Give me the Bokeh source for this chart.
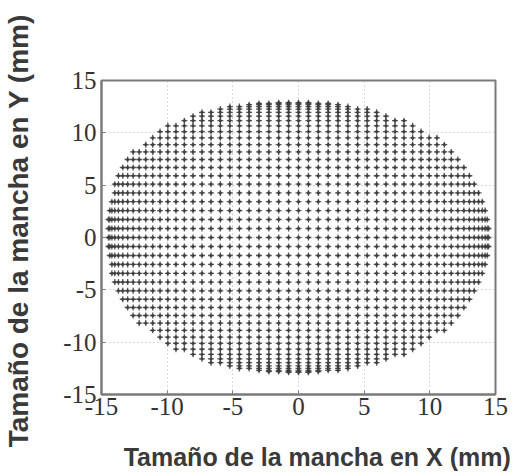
from bokeh.plotting import figure
from bokeh.models import FixedTicker, Range1d, ColumnDataSource
from bokeh.embed import file_html
from bokeh.resources import INLINE

# Column positions (mm) along X, positive half (mirrored for the negative side)
col_x_half = [0.0, 0.756, 1.51, 2.26, 3.01, 3.76, 4.50, 5.23, 5.95, 6.66, 7.35,
              8.03, 8.69, 9.33, 9.95, 10.54, 11.10, 11.63, 12.13, 12.59, 13.01,
              13.38, 13.71, 13.99, 14.21, 14.37, 14.47]

# Row positions (mm) along Y, from the centre row outwards
row_y_half = [0.0, 0.86, 1.72, 2.57, 3.42, 4.26, 5.09, 5.90, 6.69, 7.45, 8.18,
              8.87, 9.52, 10.12, 10.67, 11.16, 11.59, 11.96, 12.27, 12.51,
              12.69, 12.81, 12.88]

# Horizontal extent of the spot on each row (mm)
upper_left = [14.5, 14.5, 14.47, 14.42, 14.32, 14.18, 13.99, 13.74, 13.43, 13.05,
              12.60, 12.08, 11.49, 10.83, 10.09, 9.29, 8.41, 7.48, 6.46, 5.40,
              4.28, 3.10, 1.76]
upper_right = [14.5, 14.49, 14.43, 14.33, 14.17, 13.95, 13.68, 13.33, 12.92, 12.45,
               11.90, 11.29, 10.61, 9.87, 9.07, 8.21, 7.31, 6.36, 5.36, 4.35,
               3.32, 2.29, 1.19]
lower_left = [14.5, 14.49, 14.45, 14.36, 14.22, 14.03, 13.78, 13.47, 13.09, 12.64,
              12.13, 11.55, 10.89, 10.17, 9.38, 8.55, 7.65, 6.70, 5.69, 4.66,
              3.60, 2.52, 1.35]
lower_right = [14.5, 14.49, 14.42, 14.31, 14.14, 13.91, 13.62, 13.26, 12.83, 12.34,
               11.78, 11.15, 10.46, 9.71, 8.90, 8.04, 7.13, 6.18, 5.19, 4.19,
               3.18, 2.17, 1.11]

tick_values = [-15, -10, -5, 0, 5, 10, 15]
tick_labels = ["-15", "-10", "-5", "0", "5", "10", "15"]

x_title = "Tamaño de la mancha en X (mm)"
y_title = "Tamaño de la mancha en Y (mm)"

# Build the spot diagram
cols = sorted(set([-v for v in col_x_half] + col_x_half))
xs, ys = [], []
rows = []
for i, yv in enumerate(row_y_half):
    rows.append((yv, upper_left[i], upper_right[i]))
    if i > 0:
        rows.append((-yv, lower_left[i], lower_right[i]))
for yv, le, ri in rows:
    for xv in cols:
        if -le - 1e-6 <= xv <= ri + 1e-6:
            xs.append(xv)
            ys.append(yv)

src = ColumnDataSource(data=dict(x=xs, y=ys))

p = figure(width=522, height=476, output_backend="svg", toolbar_location=None,
           x_range=Range1d(-15, 15), y_range=Range1d(-15, 15),
           min_border_left=98, min_border_right=27, min_border_top=80,
           min_border_bottom=82)

p.scatter("x", "y", source=src, marker="cross", size=6, line_width=1.3,
          line_color="#4a4a4a", line_alpha=0.9)
p.scatter("x", "y", source=src, marker="circle", size=3.2, line_color=None,
          fill_color="#3c3c3c", fill_alpha=0.9)

p.outline_line_color = "#7a7a7a"
p.outline_line_width = 2
p.background_fill_color = "white"
p.border_fill_color = "white"

for ax in (p.xaxis[0], p.yaxis[0]):
    ax.ticker = FixedTicker(ticks=tick_values)
    ax.major_label_overrides = dict(zip(tick_values, tick_labels))
    ax.axis_line_color = "#7a7a7a"
    ax.axis_line_width = 2
    ax.major_tick_in = 4
    ax.major_tick_out = 0
    ax.major_tick_line_color = "#7a7a7a"
    ax.minor_tick_line_color = None
    ax.major_label_text_font = "Liberation Serif"
    ax.major_label_text_font_size = "25px"
    ax.major_label_text_color = "#333333"
    ax.axis_label_text_font = "Liberation Sans"
    ax.axis_label_text_font_style = "bold"
    ax.axis_label_text_color = "#3a3a3a"

p.xaxis.major_label_standoff = 3
p.yaxis.major_label_standoff = 5

# Axis titles (leading spaces shift them as in the reference)
p.xaxis.axis_label = "\u2003\u2002" + x_title
p.xaxis.axis_label_text_font_size = "25px"
p.xaxis.axis_label_standoff = 25
p.yaxis.axis_label = "\u2002" + y_title
p.yaxis.axis_label_text_font_size = "28px"
p.yaxis.axis_label_standoff = 26

p.grid.ticker = FixedTicker(ticks=[-10, -5, 0, 5, 10])
p.grid.grid_line_color = "#b0b0b0"
p.grid.grid_line_dash = "1 3"
p.grid.grid_line_width = 1

open("out.html", "w").write(file_html(p, INLINE))
